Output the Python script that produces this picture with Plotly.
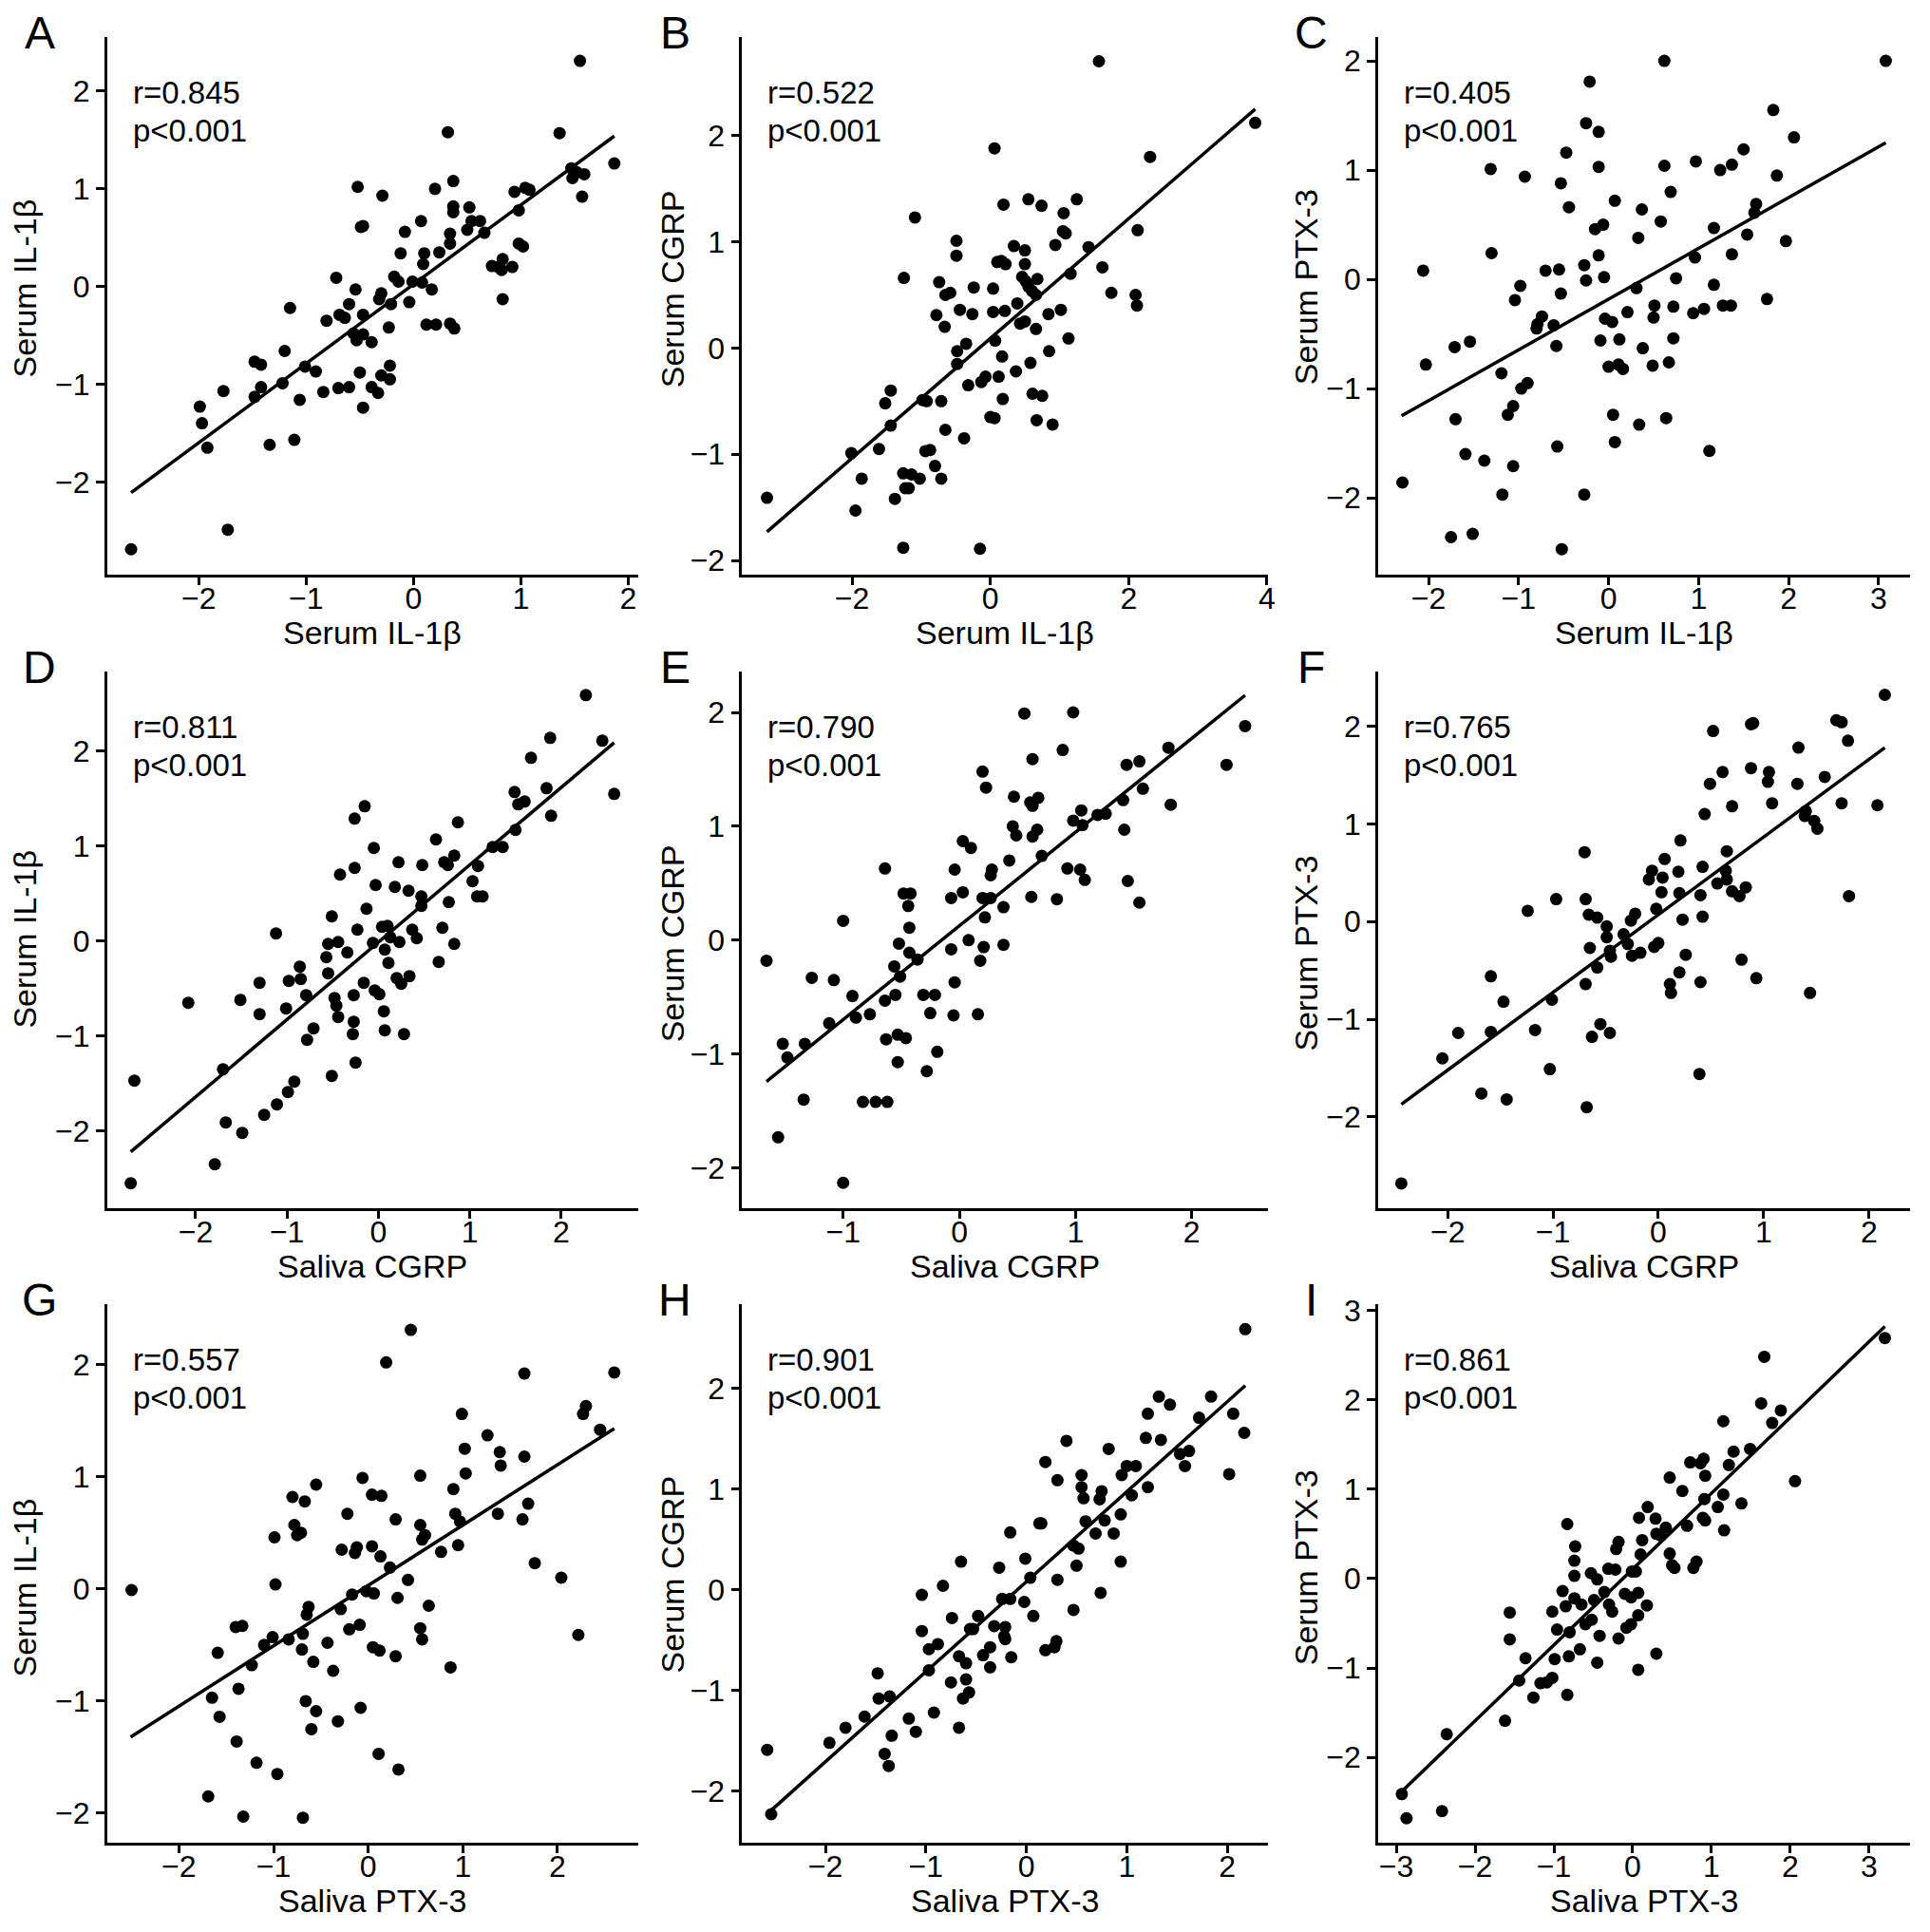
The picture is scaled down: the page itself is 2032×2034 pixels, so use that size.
import plotly.graph_objects as go
from plotly.subplots import make_subplots

# ---- data (standardised scores) ----
a_points = [(1.55, 2.31), (0.32, 1.58), (1.36, 1.57), (1.87, 1.26), (1.47, 1.21), (1.48, 1.11), (1.59, 1.15),
            (1.57, 0.92), (1.52, 1.17), (-0.52, 1.02), (0.37, 1.08), (0.20, 1.00), (-0.29, 0.93), (0.94, 0.97),
            (1.04, 1.01), (1.08, 0.99), (0.98, 0.78), (0.37, 0.82), (0.37, 0.76), (0.52, 0.81), (0.07, 0.67),
            (0.54, 0.67), (0.62, 0.67), (0.50, 0.58), (0.66, 0.55), (0.34, 0.54), (0.34, 0.44), (-0.08, 0.56),
            (-0.49, 0.61), (-0.47, 0.62), (0.98, 0.44), (1.02, 0.41), (-0.12, 0.34), (0.10, 0.34), (0.24, 0.35),
            (0.09, 0.23), (0.73, 0.21), (0.79, 0.20), (0.83, 0.28), (0.82, 0.17), (0.92, 0.20), (-0.18, 0.10),
            (-0.14, 0.05), (-0.01, 0.05), (0.08, 0.04), (-0.72, 0.09), (-0.54, -0.03), (0.17, -0.03), (-0.30, -0.07),
            (-0.32, -0.13), (-0.21, -0.18), (-0.04, -0.16), (0.83, -0.13), (-0.60, -0.18), (-1.15, -0.22),
            (-0.69, -0.29), (-0.64, -0.32), (-0.47, -0.29), (-0.81, -0.35), (0.12, -0.39), (0.21, -0.39),
            (0.34, -0.38), (0.38, -0.43), (-0.23, -0.42), (-0.56, -0.48), (-0.47, -0.49), (-0.53, -0.55),
            (-0.39, -0.57), (-1.20, -0.66), (-1.48, -0.77), (-1.42, -0.80), (-1.01, -0.82), (-0.22, -0.81),
            (-0.91, -0.87), (-0.50, -0.88), (-0.30, -0.91), (-0.22, -0.95), (-1.22, -0.99), (-1.42, -1.03),
            (-1.48, -1.13), (-1.77, -1.07), (-0.84, -1.08), (-0.70, -1.04), (-0.60, -1.03), (-0.39, -1.03),
            (-0.33, -1.09), (-1.06, -1.16), (-0.47, -1.24), (-1.99, -1.23), (-1.97, -1.40), (-1.92, -1.65),
            (-1.11, -1.57), (-1.34, -1.62), (-1.73, -2.49), (-2.63, -2.69)]

b_points = [(1.57, 2.70), (3.83, 2.12), (0.06, 1.88), (2.31, 1.80), (-1.09, 1.23), (0.55, 1.40), (0.74, 1.34),
            (0.19, 1.35), (1.25, 1.40), (1.06, 1.27), (1.05, 1.10), (1.09, 1.08), (2.13, 1.11), (-0.49, 1.01),
            (-0.49, 0.87), (0.34, 0.96), (0.94, 0.97), (1.42, 0.95), (0.50, 0.92), (0.10, 0.81), (0.16, 0.82),
            (0.22, 0.79), (0.50, 0.79), (1.62, 0.76), (-1.25, 0.66), (-0.74, 0.62), (0.46, 0.67), (0.51, 0.63),
            (0.55, 0.58), (0.60, 0.54), (0.68, 0.65), (1.16, 0.70), (-0.24, 0.57), (0.04, 0.56), (-0.65, 0.50),
            (-0.58, 0.52), (0.66, 0.50), (1.75, 0.52), (2.10, 0.50), (2.12, 0.40), (-0.44, 0.36), (0.04, 0.34),
            (0.21, 0.35), (-0.78, 0.31), (-0.26, 0.32), (0.39, 0.42), (0.84, 0.32), (1.02, 0.36), (-0.66, 0.20),
            (0.43, 0.23), (0.50, 0.25), (0.66, 0.18), (1.13, 0.09), (-0.35, 0.04), (0.07, 0.07), (-0.48, -0.03),
            (0.85, -0.03), (0.17, -0.08), (-0.48, -0.15), (0.58, -0.14), (0.37, -0.22), (-0.07, -0.27),
            (-0.13, -0.32), (0.12, -0.27), (-0.32, -0.35), (-1.44, -0.40), (0.18, -0.48), (0.61, -0.43),
            (0.75, -0.45), (-1.52, -0.52), (-0.98, -0.49), (-0.92, -0.50), (-0.71, -0.50), (0.00, -0.65),
            (0.06, -0.66), (0.67, -0.68), (0.90, -0.72), (-1.44, -0.73), (-0.65, -0.77), (-0.38, -0.85),
            (-1.61, -0.95), (-0.94, -0.97), (-0.87, -0.96), (-2.01, -0.99), (-0.80, -1.11), (-0.71, -1.23),
            (-1.86, -1.23), (-1.26, -1.18), (-1.14, -1.19), (-1.02, -1.23), (-1.23, -1.32), (-1.18, -1.32),
            (-1.38, -1.42), (-3.23, -1.41), (-1.95, -1.53), (-1.26, -1.88), (-0.15, -1.89)]

c_points = [(0.62, 2.00), (3.08, 2.00), (-0.21, 1.81), (-0.25, 1.43), (-0.11, 1.35), (1.83, 1.55), (2.06, 1.30),
            (1.50, 1.19), (-0.47, 1.16), (-1.31, 1.01), (-0.11, 1.03), (0.62, 1.04), (0.97, 1.08), (1.24, 1.00),
            (1.37, 1.05), (-0.93, 0.94), (1.87, 0.95), (-0.53, 0.88), (0.69, 0.80), (0.07, 0.72), (-0.44, 0.66),
            (0.37, 0.64), (1.64, 0.69), (1.62, 0.61), (0.58, 0.53), (-0.06, 0.50), (-0.15, 0.46), (1.17, 0.47),
            (0.33, 0.38), (1.54, 0.41), (1.97, 0.35), (-1.30, 0.24), (1.37, 0.23), (-0.11, 0.22), (0.96, 0.20),
            (-0.27, 0.13), (-2.06, 0.08), (-0.70, 0.08), (-0.55, 0.09), (-0.25, -0.01), (-0.05, 0.02), (0.75, 0.01),
            (-0.98, -0.06), (1.17, -0.05), (0.31, -0.08), (-0.53, -0.13), (-1.04, -0.19), (1.76, -0.18),
            (0.51, -0.24), (0.72, -0.25), (1.27, -0.24), (1.36, -0.24), (1.06, -0.27), (0.94, -0.31), (0.21, -0.30),
            (-0.74, -0.34), (-0.79, -0.41), (-0.80, -0.45), (-0.04, -0.36), (0.04, -0.39), (0.50, -0.35),
            (-0.61, -0.42), (-0.09, -0.56), (0.12, -0.55), (0.72, -0.54), (-0.58, -0.61), (0.38, -0.63),
            (-1.71, -0.62), (-1.54, -0.57), (-2.03, -0.78), (0.00, -0.80), (0.11, -0.78), (0.16, -0.82),
            (0.49, -0.79), (0.67, -0.76), (-1.19, -0.86), (-0.90, -0.95), (-0.97, -1.00), (-1.06, -1.16),
            (-1.12, -1.24), (-1.70, -1.28), (0.05, -1.24), (0.64, -1.27), (0.34, -1.33), (0.07, -1.49),
            (-0.57, -1.53), (1.12, -1.57), (-1.59, -1.60), (-1.38, -1.66), (-1.06, -1.71), (-2.29, -1.86),
            (-1.18, -1.97), (-0.27, -1.97), (-1.75, -2.36), (-1.51, -2.33), (-0.52, -2.47)]

d_points = [(2.27, 2.59), (1.88, 2.14), (2.45, 2.11), (1.67, 1.93), (1.84, 1.61), (2.58, 1.55), (1.49, 1.57),
            (1.53, 1.44), (1.60, 1.47), (1.89, 1.32), (-0.15, 1.42), (-0.26, 1.29), (0.87, 1.25), (1.50, 1.17),
            (0.63, 1.07), (1.25, 0.99), (1.36, 0.99), (-0.05, 0.98), (0.83, 0.90), (0.22, 0.83), (0.48, 0.80),
            (0.72, 0.83), (0.76, 0.80), (1.09, 0.79), (-0.26, 0.77), (-0.42, 0.70), (1.03, 0.63), (-0.03, 0.59),
            (0.18, 0.57), (0.33, 0.53), (0.47, 0.47), (0.47, 0.37), (1.08, 0.47), (1.14, 0.47), (0.77, 0.41),
            (-0.13, 0.34), (-0.51, 0.26), (0.04, 0.15), (0.10, 0.16), (0.13, 0.04), (-0.23, 0.12), (0.37, 0.12),
            (0.70, 0.14), (-1.12, 0.08), (0.42, 0.03), (-0.55, -0.03), (-0.44, -0.01), (-0.06, -0.02),
            (0.23, -0.01), (0.83, -0.03), (0.07, -0.09), (-0.34, -0.12), (-0.57, -0.17), (0.11, -0.23),
            (0.66, -0.22), (-0.86, -0.27), (-0.55, -0.34), (-0.85, -0.40), (-0.98, -0.42), (0.20, -0.39),
            (0.25, -0.45), (0.34, -0.37), (-1.30, -0.44), (-0.16, -0.44), (-0.04, -0.52), (0.01, -0.56),
            (-0.79, -0.57), (-0.27, -0.57), (-0.48, -0.60), (-0.46, -0.68), (-1.51, -0.62), (-2.08, -0.65),
            (-1.01, -0.71), (0.06, -0.74), (-1.30, -0.77), (-0.44, -0.80), (-0.27, -0.85), (-0.71, -0.92),
            (0.07, -0.94), (-0.28, -0.98), (0.28, -0.98), (-0.78, -1.04), (-0.25, -1.28), (-1.70, -1.35),
            (-0.51, -1.42), (-2.67, -1.47), (-0.92, -1.48), (-0.99, -1.59), (-1.11, -1.72), (-1.25, -1.83),
            (-1.67, -1.91), (-1.49, -2.02), (-1.79, -2.35), (-2.71, -2.55)]

e_points = [(0.56, 1.99), (0.98, 2.00), (2.46, 1.88), (0.89, 1.67), (1.80, 1.69), (0.63, 1.59), (1.44, 1.54),
            (1.55, 1.57), (2.30, 1.54), (0.20, 1.48), (0.23, 1.34), (1.58, 1.33), (0.47, 1.26), (0.61, 1.21),
            (0.63, 1.18), (0.68, 1.25), (1.41, 1.23), (1.82, 1.19), (1.05, 1.14), (1.19, 1.10), (1.26, 1.11),
            (0.98, 1.05), (1.06, 1.01), (0.46, 1.00), (0.49, 0.92), (0.67, 0.97), (0.63, 0.91), (1.42, 0.97),
            (0.03, 0.87), (0.10, 0.81), (0.71, 0.74), (0.43, 0.70), (-0.64, 0.63), (-0.04, 0.62), (0.28, 0.62),
            (0.27, 0.57), (0.93, 0.63), (1.04, 0.62), (1.08, 0.53), (1.45, 0.52), (-0.48, 0.41), (-0.42, 0.41),
            (0.03, 0.42), (-0.07, 0.37), (0.20, 0.37), (0.27, 0.37), (0.62, 0.38), (0.84, 0.36), (1.55, 0.33),
            (-0.44, 0.30), (0.38, 0.29), (-1.00, 0.17), (0.22, 0.20), (-0.43, 0.11), (0.08, 0.00), (-0.52, -0.03),
            (0.38, -0.04), (0.21, -0.06), (-0.07, -0.08), (-0.43, -0.11), (-0.36, -0.17), (-1.66, -0.18),
            (0.18, -0.18), (-0.56, -0.23), (-0.51, -0.32), (-1.27, -0.33), (-1.08, -0.35), (-0.04, -0.37),
            (-0.92, -0.49), (-0.55, -0.48), (-0.31, -0.48), (-0.21, -0.48), (-0.64, -0.53), (-0.77, -0.65),
            (-0.25, -0.64), (-0.05, -0.66), (0.16, -0.65), (-0.89, -0.68), (-1.12, -0.73), (-0.63, -0.87),
            (-0.53, -0.83), (-0.46, -0.86), (-1.52, -0.91), (-1.33, -0.91), (-1.48, -1.03), (-0.19, -0.98),
            (-0.53, -1.07), (-0.28, -1.15), (-1.34, -1.40), (-0.83, -1.42), (-0.72, -1.42), (-0.62, -1.42),
            (-1.56, -1.73), (-1.00, -2.13)]

f_points = [(2.15, 2.32), (0.88, 2.02), (0.90, 2.03), (1.69, 2.06), (1.74, 2.04), (0.52, 1.95), (1.80, 1.85),
            (1.33, 1.78), (0.88, 1.57), (0.61, 1.53), (1.05, 1.53), (1.58, 1.48), (0.49, 1.41), (1.04, 1.43),
            (1.32, 1.41), (1.08, 1.21), (1.74, 1.21), (2.08, 1.19), (0.70, 1.18), (0.44, 1.10), (1.40, 1.13),
            (1.39, 1.08), (1.48, 1.03), (1.51, 0.95), (0.21, 0.83), (-0.70, 0.71), (0.65, 0.72), (0.06, 0.64),
            (0.42, 0.56), (-0.06, 0.52), (-0.09, 0.43), (0.04, 0.45), (0.19, 0.51), (0.64, 0.52), (0.65, 0.43),
            (0.56, 0.39), (0.83, 0.35), (0.70, 0.31), (0.77, 0.26), (0.03, 0.30), (0.20, 0.29), (0.40, 0.27),
            (1.81, 0.26), (-0.97, 0.23), (-0.69, 0.23), (-1.24, 0.11), (-0.02, 0.13), (-0.22, 0.08), (-0.26, 0.01),
            (-0.66, 0.07), (-0.58, 0.04), (0.23, 0.02), (0.42, 0.05), (-0.49, -0.05), (-0.49, -0.16),
            (-0.33, -0.13), (-0.29, -0.23), (-0.04, -0.26), (0.00, -0.22), (-0.65, -0.27), (-0.46, -0.30),
            (-0.45, -0.36), (-0.25, -0.35), (-0.17, -0.32), (0.26, -0.34), (-0.58, -0.47), (0.79, -0.39),
            (0.20, -0.52), (-1.59, -0.56), (0.93, -0.58), (0.40, -0.62), (-0.69, -0.64), (0.11, -0.64),
            (0.12, -0.73), (1.44, -0.73), (-1.01, -0.80), (-1.47, -0.82), (-1.90, -1.14), (-1.59, -1.13),
            (-1.17, -1.11), (-0.55, -1.05), (-0.46, -1.14), (-0.63, -1.18), (-2.05, -1.40), (-1.03, -1.51),
            (0.39, -1.56), (-1.68, -1.76), (-1.44, -1.82), (-0.68, -1.90), (-2.44, -2.68)]

g_points = [(0.45, 2.31), (0.19, 2.02), (1.65, 1.92), (2.60, 1.93), (2.30, 1.63), (2.27, 1.56), (0.99, 1.56),
            (2.45, 1.42), (1.26, 1.37), (1.02, 1.25), (1.39, 1.22), (1.65, 1.18), (1.40, 1.10), (1.03, 1.03),
            (-0.06, 0.99), (0.55, 1.01), (-0.55, 0.93), (0.90, 0.89), (0.04, 0.84), (0.14, 0.83), (-0.80, 0.82),
            (-0.67, 0.78), (1.69, 0.76), (-0.22, 0.67), (0.92, 0.67), (1.37, 0.67), (0.29, 0.62), (1.63, 0.62),
            (0.97, 0.60), (-0.78, 0.57), (-0.75, 0.48), (-0.71, 0.50), (0.55, 0.57), (0.60, 0.48), (0.57, 0.44),
            (-0.99, 0.46), (0.95, 0.39), (-0.28, 0.35), (-0.12, 0.37), (-0.14, 0.32), (0.04, 0.38), (0.77, 0.33),
            (0.13, 0.29), (1.76, 0.23), (0.23, 0.19), (0.42, 0.08), (2.04, 0.10), (-0.98, 0.04), (-2.50, -0.01),
            (-0.02, -0.02), (0.06, -0.04), (-0.17, -0.05), (-0.63, -0.16), (-0.65, -0.23), (0.31, -0.08),
            (0.64, -0.15), (-0.29, -0.18), (-0.09, -0.32), (-1.40, -0.34), (-1.33, -0.33), (0.55, -0.35),
            (0.57, -0.45), (2.22, -0.41), (-0.20, -0.36), (-0.69, -0.40), (-1.01, -0.43), (-0.84, -0.45),
            (-0.43, -0.48), (-1.10, -0.50), (0.05, -0.52), (0.12, -0.55), (-0.70, -0.54), (-1.59, -0.57),
            (0.29, -0.60), (-0.58, -0.65), (-1.23, -0.68), (-0.37, -0.73), (0.87, -0.70), (-1.37, -0.89),
            (-1.65, -0.97), (-0.66, -1.00), (-0.08, -1.06), (-0.55, -1.09), (-1.57, -1.14), (-0.32, -1.18),
            (-0.60, -1.25), (-1.39, -1.36), (0.11, -1.47), (-1.18, -1.55), (0.32, -1.61), (-0.96, -1.65),
            (-1.69, -1.85), (-1.32, -2.03), (-0.69, -2.04)]

h_points = [(2.18, 2.59), (1.32, 1.92), (1.84, 1.92), (1.43, 1.84), (1.21, 1.75), (2.06, 1.75), (1.72, 1.71),
            (2.17, 1.56), (1.19, 1.51), (1.34, 1.49), (0.40, 1.48), (0.82, 1.40), (1.53, 1.35), (1.62, 1.38),
            (1.58, 1.23), (0.19, 1.27), (1.00, 1.23), (1.09, 1.23), (0.95, 1.14), (0.55, 1.14), (0.55, 1.02),
            (0.57, 0.91), (2.02, 1.15), (0.31, 1.09), (0.75, 0.98), (0.73, 0.90), (1.21, 1.02), (1.05, 0.94),
            (0.94, 0.75), (0.13, 0.66), (0.15, 0.66), (0.59, 0.68), (0.78, 0.69), (-0.16, 0.57), (0.69, 0.56),
            (0.87, 0.56), (0.47, 0.44), (0.52, 0.41), (-0.65, 0.28), (-0.01, 0.31), (0.94, 0.28), (-0.27, 0.22),
            (0.50, 0.24), (0.04, 0.12), (0.31, 0.10), (-0.83, 0.04), (-1.04, -0.05), (0.74, -0.03), (-0.24, -0.09),
            (-0.16, -0.09), (-0.02, -0.12), (0.47, -0.20), (-0.48, -0.26), (-0.74, -0.28), (0.07, -0.26),
            (-0.56, -0.39), (-0.53, -0.39), (-0.32, -0.36), (-0.21, -0.37), (-1.04, -0.41), (-0.22, -0.46),
            (-0.21, -0.49), (0.30, -0.51), (0.28, -0.57), (0.19, -0.60), (-0.88, -0.54), (-0.97, -0.59),
            (-0.36, -0.57), (-0.43, -0.65), (-0.15, -0.67), (-0.67, -0.66), (-0.60, -0.73), (-0.36, -0.77),
            (-0.97, -0.80), (-1.48, -0.83), (-0.75, -0.92), (-0.60, -0.89), (-0.57, -1.02), (-0.63, -1.08),
            (-1.47, -1.08), (-1.36, -1.06), (-0.92, -1.22), (-1.61, -1.26), (-1.17, -1.28), (-0.67, -1.37),
            (-1.80, -1.37), (-1.10, -1.41), (-1.34, -1.45), (-1.96, -1.52), (-2.58, -1.59), (-1.41, -1.63),
            (-1.37, -1.75), (-2.54, -2.23)]

i_points = [(3.20, 2.69), (1.67, 2.48), (1.63, 1.96), (1.88, 1.88), (1.77, 1.74), (1.15, 1.76), (1.49, 1.45),
            (1.28, 1.42), (0.73, 1.30), (0.86, 1.29), (0.90, 1.34), (1.22, 1.27), (0.47, 1.13), (0.92, 1.15),
            (2.06, 1.09), (0.63, 0.98), (1.15, 0.94), (0.91, 0.89), (1.38, 0.84), (1.08, 0.80), (0.19, 0.80),
            (-0.83, 0.61), (0.08, 0.68), (0.29, 0.67), (0.89, 0.68), (0.92, 0.65), (0.42, 0.57), (0.69, 0.59),
            (1.16, 0.54), (0.30, 0.50), (0.36, 0.48), (-0.18, 0.41), (-0.21, 0.33), (0.12, 0.43), (-0.73, 0.36),
            (0.47, 0.28), (0.10, 0.27), (-0.74, 0.20), (0.81, 0.19), (0.77, 0.12), (0.50, 0.15), (0.53, 0.12),
            (-0.31, 0.11), (-0.22, 0.10), (-0.53, 0.06), (-0.01, 0.08), (0.04, 0.08), (-0.74, 0.03),
            (-0.45, -0.01), (-0.89, -0.14), (-0.36, -0.15), (-0.10, -0.17), (-0.02, -0.21), (0.07, -0.16),
            (-0.74, -0.22), (-0.49, -0.24), (-0.65, -0.29), (-0.30, -0.29), (-0.26, -0.37), (0.18, -0.30),
            (-0.85, -0.31), (-1.56, -0.38), (-1.02, -0.37), (0.07, -0.41), (-0.52, -0.46), (-0.60, -0.51),
            (-0.02, -0.51), (-0.08, -0.55), (-0.96, -0.57), (-0.80, -0.60), (-0.42, -0.64), (-0.18, -0.67),
            (-1.56, -0.68), (-0.67, -0.79), (-1.36, -0.89), (-0.81, -0.87), (0.30, -0.84), (-0.99, -0.90),
            (-0.45, -0.94), (0.07, -1.02), (-1.44, -1.14), (-1.02, -1.11), (-1.17, -1.17), (-1.09, -1.16),
            (-1.26, -1.33), (-0.83, -1.30), (-1.62, -1.59), (-2.36, -1.74), (-2.93, -2.41), (-2.42, -2.60),
            (-2.87, -2.68)]

# regression lines (end points)
fit_x = [[-2.63, 1.87], [-3.23, 3.83], [-2.30, 3.08],
         [-2.71, 2.58], [-1.66, 2.46], [-2.44, 2.15],
         [-2.51, 2.60], [-2.55, 2.18], [-2.93, 3.20]]
fit_y = [[-2.11, 1.54], [-1.73, 2.25], [-1.25, 1.25],
         [-2.22, 2.09], [-1.24, 2.15], [-1.87, 1.78],
         [-1.32, 1.43], [-2.20, 2.03], [-2.38, 2.82]]

letters = ["A", "B", "C", "D", "E", "F", "G", "H", "I"]
r_values = ["0.845", "0.522", "0.405", "0.811", "0.790", "0.765", "0.557", "0.901", "0.861"]
x_titles = ["Serum IL-1β"] * 3 + ["Saliva CGRP"] * 3 + ["Saliva PTX-3"] * 3
y_titles = ["Serum IL-1β", "Serum CGRP", "Serum PTX-3"] * 3
all_points = [a_points, b_points, c_points, d_points, e_points, f_points, g_points, h_points, i_points]

# ---- axis setup ----
x_ranges = [[-2.855, 2.09], [-3.59, 4.02], [-2.56, 3.35],
            [-2.97, 2.84], [-1.87, 2.66], [-2.66, 2.39],
            [-2.76, 2.85], [-2.83, 2.41], [-3.23, 3.52]]
y_ranges = [[-2.946, 2.556], [-2.13, 2.93], [-2.70, 2.22],
            [-2.81, 2.84], [-2.35, 2.36], [-2.93, 2.56],
            [-2.26, 2.54], [-2.51, 2.84], [-2.95, 3.07]]
x_dticks = [1, 2, 1, 1, 1, 1, 1, 1, 1]

W, H = 2032, 2034
col_px = [(113, 674), (784, 1340), (1456, 2018)]
row_px = [(28, 598), (701, 1270), (1372, 1943)]
ytitle_px = [26, 710, 1380]
ytitle_pos = [0.532, 0.530, 0.535, 0.501, 0.492, 0.475, 0.473, 0.497, 0.511]

FONT = "Liberation Sans, Arial, Helvetica, sans-serif"

fig = make_subplots(rows=3, cols=3)

annotations = []
for k in range(9):
    row, col = divmod(k, 3)
    xs, ys = zip(*all_points[k])
    fig.add_trace(go.Scatter(x=xs, y=ys, mode="markers",
                             marker=dict(size=13, color="black"),
                             showlegend=False), row=row + 1, col=col + 1)
    fig.add_trace(go.Scatter(x=fit_x[k], y=fit_y[k], mode="lines",
                             line=dict(color="black", width=3.5),
                             showlegend=False), row=row + 1, col=col + 1)

    x0, x1 = col_px[col]
    top, bottom = row_px[row]
    sfx = "" if k == 0 else str(k + 1)
    axis_style = dict(showline=True, linecolor="black", linewidth=2.5, showgrid=False, zeroline=False,
                      ticks="outside", ticklen=9, tickwidth=2.5, tickcolor="black",
                      tickfont=dict(family=FONT, size=32, color="black"))
    fig.layout["xaxis" + sfx].update(domain=[x0 / W, x1 / W], range=x_ranges[k], dtick=x_dticks[k],
                                     tick0=0, ticklabelstandoff=-14, **axis_style)
    fig.layout["yaxis" + sfx].update(domain=[1 - bottom / H, 1 - top / H], range=y_ranges[k], dtick=1,
                                     tick0=0, **axis_style)

    xd = "x" + sfx + " domain"
    yd = "y" + sfx + " domain"
    annotations.append(dict(text=f"r={r_values[k]}", xref=xd, yref=yd, x=0.045, y=0.896,
                            xanchor="left", yanchor="middle", showarrow=False,
                            font=dict(family=FONT, size=33, color="black")))
    annotations.append(dict(text="p<0.001", xref=xd, yref=yd, x=0.045, y=0.826,
                            xanchor="left", yanchor="middle", showarrow=False,
                            font=dict(family=FONT, size=33, color="black")))
    annotations.append(dict(text=x_titles[k], xref=xd, yref=yd, x=0.5, y=-0.108,
                            xanchor="center", yanchor="middle", showarrow=False,
                            font=dict(family=FONT, size=34, color="black")))
    annotations.append(dict(text=y_titles[k], xref="paper", yref=yd, x=ytitle_px[col] / W, y=ytitle_pos[k],
                            xanchor="center", yanchor="middle", textangle=-90, showarrow=False,
                            font=dict(family=FONT, size=34, color="black")))
    annotations.append(dict(text=letters[k], xref="paper", yref="paper",
                            x=(x0 - 71) / W, y=1 - (top - 4) / H,
                            xanchor="center", yanchor="middle", showarrow=False,
                            font=dict(family=FONT, size=48, color="black")))

fig.update_layout(width=W, height=H, margin=dict(l=0, r=0, t=0, b=0),
                  paper_bgcolor="white", plot_bgcolor="white",
                  annotations=annotations, showlegend=False)

# drop the browser's default body margin so the figure sits at the page origin
fig.write_html("out.html", config={"displayModeBar": False},
               post_script="document.body.style.margin='0';")
